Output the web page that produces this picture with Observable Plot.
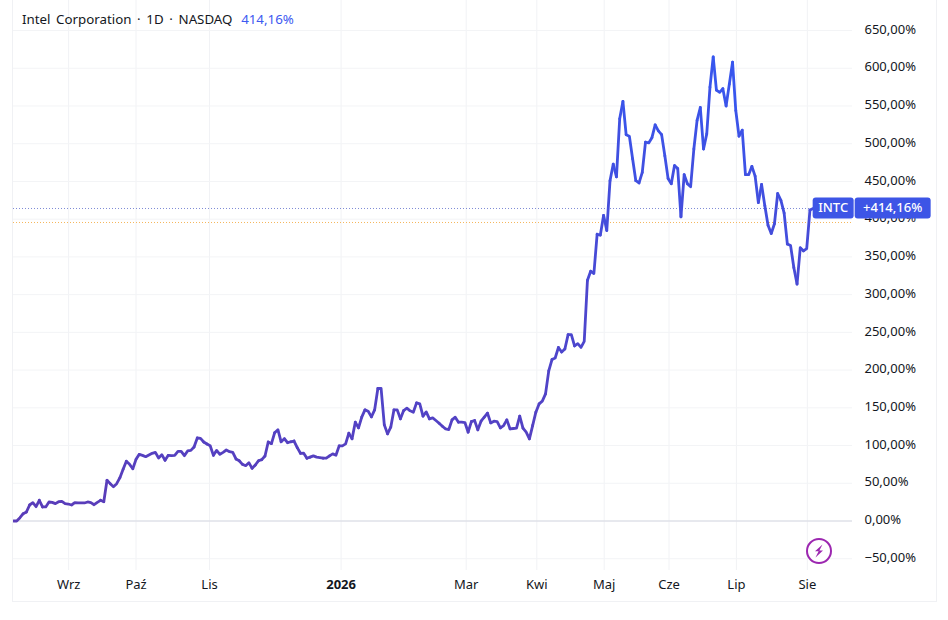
<!DOCTYPE html>
<html><head><meta charset="utf-8">
<script src="https://cdn.jsdelivr.net/npm/d3@7"></script>
<script src="https://cdn.jsdelivr.net/npm/@observablehq/plot@0.6"></script>
<style>
html,body{margin:0;padding:0;background:#fff;}
#wrap{position:relative;width:948px;height:620px;overflow:hidden;font-family:"Noto Sans",sans-serif;}
#frame{position:absolute;left:12px;top:-1px;width:923px;height:601px;border:1px solid #f0f1f4;pointer-events:none;}
#title{position:absolute;left:22px;top:10px;font-size:13.3px;line-height:18px;color:#131722;white-space:pre;word-spacing:2.2px;}
#title span{color:#3d5af1;margin-left:3px;}
#bolt{position:absolute;left:805px;top:537px;}
svg{display:block;}
</style></head><body>
<div id="wrap"><div id="chart"></div><div id="frame"></div>
<div id="title">Intel Corporation · 1D · NASDAQ <span>414,16%</span></div>
<svg id="bolt" width="28" height="28" viewBox="0 0 28 28"><circle cx="14" cy="14" r="12" fill="#fff" stroke="#9c27b0" stroke-width="2"/><path d="M17.5 7.5 L10 14.2 L13.6 14.2 L10.5 20.5 L18 13.6 L14.4 13.6 Z" fill="#9c27b0"/></svg>
</div>
<script>
const changePct = [
0,0,4.4,9.7,11.9,21.2,24.3,19,27.4,18.6,18.6,25.2,24.7,23,25.6,26,23,22.5,21.2,24.3,23.9,23.9,23.9,25.2,24.3,21.6,24.7,27.4,25.6,53.9,
49.5,45.5,49.5,57.4,68.5,79.1,75.1,69.3,81.7,88.3,87,85.2,87.5,89.7,91,83.5,87.9,80.4,87,86.6,87,92.3,92.3,86.6,92.8,93.6,98.1,110,109.5,104.7,
102,99.8,87,93.6,88.3,91,94.1,91.9,91,82.2,79.9,75.1,73.3,77.3,69.8,74.2,79.9,81.3,86.1,104.7,102.5,117,121,105,109,103.8,105,106,97.2,89.7,
89.9,83.2,84.6,86.3,84.6,84.1,83.2,83.2,86.3,89,87.2,99.6,99.6,102.2,116.4,108.9,131,123.4,137.6,147.3,145.5,138,147.3,175.6,175.6,127.4,115.5,124.3,147.3,147.3,
135.4,146.4,149.5,146,144.2,156.6,155.2,138.9,144.6,135.4,136.7,133.2,129.6,125.6,122.1,121.2,134,137.6,131,131,130.5,117.7,131.8,133.2,120.8,132.3,137.6,142.9,130,132.3,
131.8,123.4,126.5,134,122.1,122.6,123,138.9,123,117.7,108.9,126.5,144.2,155.2,158.8,168.5,199,214,216,230,224,228,247,247,232,235,230,238,319,331,
328,380,379,405,385,451,473,456,533,556,512,510,480,451,448,462,502,501,508,525,517,512,484,454,447,471,467,403,459,447,
443,493,531,548,493,513,575,615,571,568,573,550,579,608,544,510,518,459,459,470,457,422,446,418,392,381,394,434,425,408,
367,365,336,314,362,358,361,412,414.16];
const yTicks = [-50,0,50,100,150,200,250,300,350,400,450,500,550,600,650];
const monthBars = [17.1,38,60.8,101.6,140.4,162.3,183.2,203.3,224.2,246.2];
const monthLabels = ["Wrz","Paź","Lis","2026","Mar","Kwi","Maj","Cze","Lip","Sie"];
const lastValue = 414.16, prevClose = 395.6;
const symbol = "INTC", lastLabel = "+414,16%";

const rows = changePct.map((v,i)=>({i,v}));
const fmtY = d => d3.format(".2f")(d).replace(".",",").replace("-","\u2212")+"%";
const fmtX = d => monthLabels[monthBars.indexOf(d)];
const blue = "#3d55e6";

const pill = (index,scales) => {
  const y = scales.y(lastValue), x0 = scales.x(changePct.length-1);
  const g = d3.create("svg:g").attr("font-family",'"Noto Sans",sans-serif').attr("font-size",13);
  g.append("rect").attr("x",x0).attr("y",y-10.5).attr("width",41).attr("height",21).attr("rx",3).attr("fill",blue);
  g.append("rect").attr("x",x0+42).attr("y",y-10.5).attr("width",76).attr("height",21).attr("rx",3).attr("fill",blue);
  g.append("text").attr("x",x0+20.5).attr("y",y+4.5).attr("text-anchor","middle").attr("fill","#fff").attr("font-weight",500).text(symbol);
  g.append("text").attr("x",x0+80).attr("y",y+4.5).attr("text-anchor","middle").attr("fill","#fff").attr("font-weight",500).text(lastLabel);
  return g.node();
};

const chart = Plot.plot({
  width:948,height:620,marginLeft:13,marginRight:96,marginTop:0,marginBottom:50,
  style:{fontFamily:'"Noto Sans",sans-serif',background:"#fff"},
  x:{domain:[0,260.2],axis:null},
  y:{domain:[-65.6,689.8],axis:null},
  color:{domain:[0,600],range:["#5a3cb8","#3856ee"]},
  marks:[
    Plot.gridX(monthBars,{stroke:"#f1f2f5",strokeOpacity:1}),
    Plot.gridY(yTicks,{stroke:"#f3f4f6",strokeOpacity:1}),
    Plot.ruleY([0],{stroke:"#d6d7e2",strokeWidth:1.2}),
    Plot.ruleY([lastValue],{stroke:"#7f8bd6",strokeDasharray:"1,2"}),
    Plot.ruleY([prevClose],{stroke:"#f5b75c",strokeDasharray:"1,2"}),
    Plot.line(rows,{x:"i",y:"v",stroke:"v",z:null,strokeWidth:2.8,strokeLinejoin:"round",strokeLinecap:"round"}),
    Plot.axisY(yTicks,{anchor:"right",tickSize:0,tickPadding:12,textAnchor:"start",tickFormat:fmtY,fontSize:13,fill:"#131722",dy:-1,label:null}),
    Plot.axisX(monthBars.filter(d=>fmtX(d)!=="2026"),{anchor:"bottom",tickSize:0,tickPadding:9,tickFormat:fmtX,fontSize:13,fill:"#131722",label:null}),
    Plot.axisX(monthBars.filter(d=>fmtX(d)==="2026"),{anchor:"bottom",tickSize:0,tickPadding:9,tickFormat:fmtX,fontSize:13,fontWeight:700,fill:"#131722",label:null}),
    pill
  ]
});
document.getElementById("chart").append(chart);
</script>
</body></html>
